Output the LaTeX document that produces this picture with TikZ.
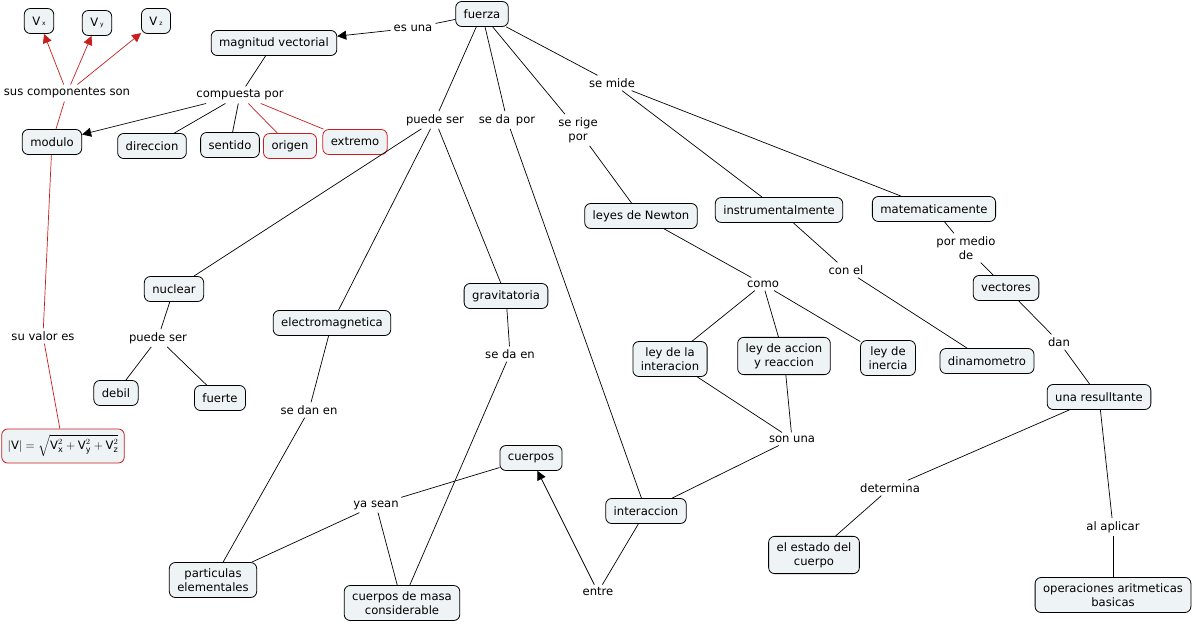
\documentclass[tikz,border=0pt]{standalone}
\usepackage{amsmath}
\usepackage{fontspec}
\setmainfont{DejaVu Sans}
\usetikzlibrary{arrows.meta, positioning}
\definecolor{cmapfill}{RGB}{238,243,245}
\definecolor{cmapred}{RGB}{200,30,30}
\newcommand{\vcomp}[1]{V\,{\fontsize{6}{6}\selectfont #1}}

\begin{document}
\begin{tikzpicture}[
    x=1pt, y=-1pt,
    font=\fontsize{11.6}{14}\selectfont,
    concept/.style = {
        rectangle, draw=black, fill=cmapfill,
        rounded corners=6pt, minimum height=25pt,
        inner xsep=8pt, inner ysep=6pt,
        align=center, line width=0.8pt
    },
    redconcept/.style = {concept, draw=cmapred},
    link/.style = {inner sep=3pt, align=center},
    line/.style = {draw=black, line width=0.7pt},
    redline/.style = {draw=cmapred, line width=0.7pt},
    arr/.style = {-{Triangle[length=9pt, width=9pt]}},
]
\useasboundingbox (0,0) rectangle (1196,626);

% Concepts
\node[concept] (fuerza) at (482,14) {fuerza};
\node[concept] (magnitud) at (274,43) {magnitud vectorial};
\node[concept] (vx) at (39,21) {\vcomp{x}};
\node[concept] (vy) at (97,23) {\vcomp{y}};
\node[concept] (vz) at (156,21) {\vcomp{z}};
\node[concept] (modulo) at (52,142) {modulo};
\node[concept] (direccion) at (152,146) {direccion};
\node[concept] (sentido) at (230,145) {sentido};
\node[redconcept] (origen) at (290,146) {origen};
\node[redconcept] (extremo) at (355,142) {extremo};
\node[redconcept, inner xsep=6pt] (valor) at (63,446)
    {$\left|\text{V}\right| = \sqrt{\text{V}_{\text{x}}^2 + \text{V}_{\text{y}}^2 + \text{V}_{\text{z}}^2}$};
\node[concept] (newton) at (641,216) {leyes de Newton};
\node[concept] (instrumental) at (779,210) {instrumentalmente};
\node[concept] (matematica) at (934,209) {matematicamente};
\node[concept] (nuclear) at (174,289) {nuclear};
\node[concept] (electro) at (332,323) {electromagnetica};
\node[concept] (gravitatoria) at (506,296) {gravitatoria};
\node[concept] (vectores) at (1006,288) {vectores};
\node[concept] (leyinter) at (670,359) {ley de la\\interacion};
\node[concept] (leyaccion) at (784,356) {ley de accion\\y reaccion};
\node[concept] (leyinercia) at (888,358) {ley de\\inercia};
\node[concept] (dinamometro) at (987,361) {dinamometro};
\node[concept] (resultante) at (1099,397) {una resulltante};
\node[concept] (debil) at (116,393) {debil};
\node[concept] (fuerte) at (220,398) {fuerte};
\node[concept] (cuerpos) at (531,458) {cuerpos};
\node[concept] (interaccion) at (646,511) {interaccion};
\node[concept] (estado) at (814,555) {el estado del\\cuerpo};
\node[concept] (particulas) at (213,580) {particulas\\elementales};
\node[concept] (masa) at (402,603) {cuerpos de masa\\considerable};
\node[concept] (operaciones) at (1113,595) {operaciones aritmeticas\\basicas};

% Linking phrases
\node[link] (esuna) at (413,28) {es una};
\node[link] (componentes) at (67,93) {sus componentes son};
\node[link] (compuesta) at (240,95) {compuesta por};
\node[link] (puedeser) at (435,120) {puede ser};
\node[link] (sedapor) at (507,120) {se da\hspace{0.5em}por};
\node[link] (serige) at (578,130) {se rige\\por};
\node[link] (semide) at (612,83) {se mide};
\node[link] (como) at (763,284) {como};
\node[link] (conel) at (846,270) {con el};
\node[link] (pormedio) at (966,248) {por medio\\de};
\node[link] (dan) at (1059,342) {dan};
\node[link] (puedeserb) at (158,338) {puede ser};
\node[link] (suvalor) at (43,336) {su valor es};
\node[link] (sedanen) at (309,410) {se dan en};
\node[link] (sedaen) at (510,354) {se da en};
\node[link] (sonuna) at (792,439) {son una};
\node[link] (determina) at (890,488) {determina};
\node[link] (alaplicar) at (1113,527) {al aplicar};
\node[link] (yasean) at (376,505) {ya sean};
\node[link] (entre) at (598,592) {entre};

% Connectors
\draw[line] (fuerza) -- (esuna);
\draw[line, arr] (esuna) -- (magnitud);
\draw[line] (magnitud) -- (compuesta);
\draw[line, arr] (compuesta) -- (modulo);
\draw[line] (compuesta) -- (direccion);
\draw[line] (compuesta) -- (sentido);
\draw[redline] (compuesta) -- (origen);
\draw[redline] (compuesta) -- (extremo);
\draw[redline] (modulo) -- (componentes);
\draw[redline, arr] (componentes) -- (vx);
\draw[redline, arr] (componentes) -- (vy);
\draw[redline, arr] (componentes) -- (vz);
\draw[redline] (modulo) -- (suvalor);
\draw[redline] (suvalor) -- (valor);

\draw[line] (fuerza) -- (puedeser);
\draw[line] (puedeser) -- (nuclear);
\draw[line] (puedeser) -- (electro);
\draw[line] (puedeser) -- (gravitatoria);
\draw[line] (fuerza) -- (sedapor);
\draw[line] (sedapor) -- (interaccion);
\draw[line] (fuerza) -- (serige);
\draw[line] (serige) -- (newton);
\draw[line] (fuerza) -- (semide);
\draw[line] (semide) -- (instrumental);
\draw[line] (semide) -- (matematica);

\draw[line] (newton) -- (como);
\draw[line] (como) -- (leyinter);
\draw[line] (como) -- (leyaccion);
\draw[line] (como) -- (leyinercia);
\draw[line] (leyinter) -- (sonuna);
\draw[line] (leyaccion) -- (sonuna);
\draw[line] (sonuna) -- (interaccion);
\draw[line] (instrumental) -- (conel);
\draw[line] (conel) -- (dinamometro);
\draw[line] (matematica) -- (pormedio);
\draw[line] (pormedio) -- (vectores);
\draw[line] (vectores) -- (dan);
\draw[line] (dan) -- (resultante);
\draw[line] (resultante) -- (determina);
\draw[line] (determina) -- (estado);
\draw[line] (resultante) -- (alaplicar);
\draw[line] (alaplicar) -- (operaciones);

\draw[line] (nuclear) -- (puedeserb);
\draw[line] (puedeserb) -- (debil);
\draw[line] (puedeserb) -- (fuerte);
\draw[line] (electro) -- (sedanen);
\draw[line] (sedanen) -- (particulas);
\draw[line] (gravitatoria) -- (sedaen);
\draw[line] (sedaen) -- (masa);
\draw[line] (cuerpos) -- (yasean);
\draw[line] (yasean) -- (particulas);
\draw[line] (yasean) -- (masa);
\draw[line] (interaccion) -- (entre);
\draw[line, arr] (entre) -- (cuerpos);

\end{tikzpicture}
\end{document}
